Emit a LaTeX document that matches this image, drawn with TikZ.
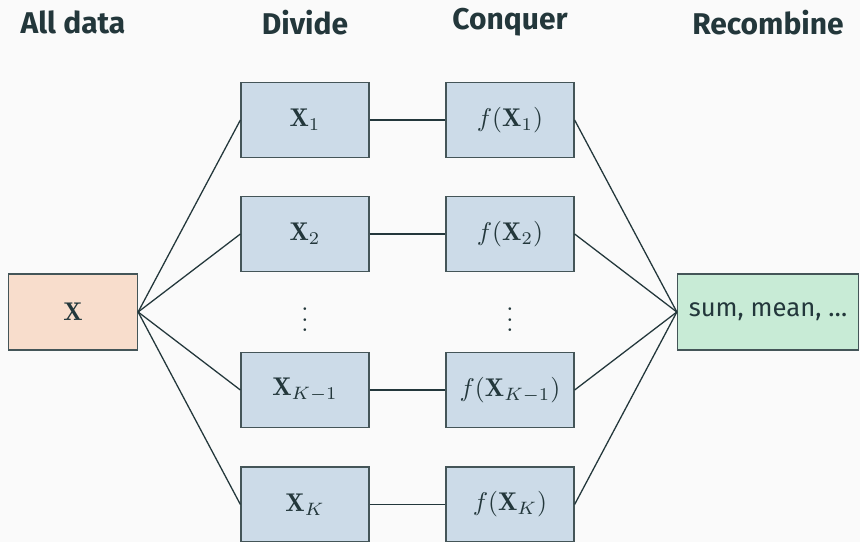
\documentclass[tikz,border=0pt]{standalone}
\usepackage{amsmath}
\usepackage{amssymb}
\usepackage{fontspec}
\setsansfont{Fira Sans}
\usepackage{xcolor}

\definecolor{mdark}{HTML}{23373B}
\definecolor{bgcol}{HTML}{FAFAFA}
\definecolor{boxblue}{HTML}{CCDBE8}
\definecolor{boxorange}{HTML}{F8DDCC}
\definecolor{boxgreen}{HTML}{C8EBD6}

\tikzset{
  part/.style={draw=mdark!85, line width=0.5pt, fill=boxblue, minimum width=49.9pt, minimum height=29.3pt, inner sep=0pt},
  head/.style={font=\fontsize{11.7}{14}\sffamily\bfseries, text=mdark},
  link/.style={draw=mdark, line width=0.5pt}
}

\begin{document}
\begin{tikzpicture}[x=0.39pt, y=-0.39pt, text=mdark]

\useasboundingbox (0,0) rectangle (860,542);
\fill[bgcol] (0,0) rectangle (860,542);

\coordinate (all) at (73,312);
\coordinate (d1) at (305,120);
\coordinate (d2) at (305,234);
\coordinate (dd) at (305,312);
\coordinate (dk1) at (305,390);
\coordinate (dk) at (305,504.5);
\coordinate (c1) at (510,120);
\coordinate (c2) at (510,234);
\coordinate (cd) at (510,312);
\coordinate (ck1) at (510,390);
\coordinate (ck) at (510,504.5);
\coordinate (rec) at (768,312);

\node[head] at (73,22) {All data};
\node[head] at (305,23) {Divide};
\node[head] at (510,22) {Conquer};
\node[head] at (768,23) {Recombine};

\node[part, fill=boxorange, minimum width=50.3pt, minimum height=29.6pt] (X) at (all) {$\mathbf{X}$};

\node[part] (X1) at (d1) {$\mathbf{X}_1$};
\node[part] (X2) at (d2) {$\mathbf{X}_2$};
\node (Xd) at (dd) {$\vdots$};
\node[part] (XK1) at (dk1) {$\mathbf{X}_{K-1}$};
\node[part] (XK) at (dk) {$\mathbf{X}_K$};

\node[part] (f1) at (c1) {$f(\mathbf{X}_1)$};
\node[part] (f2) at (c2) {$f(\mathbf{X}_2)$};
\node (fd) at (cd) {$\vdots$};
\node[part] (fK1) at (ck1) {$f(\mathbf{X}_{K-1})$};
\node[part] (fK) at (ck) {$f(\mathbf{X}_K)$};

\node[part, fill=boxgreen, minimum width=70.6pt, minimum height=29.6pt, font=\sffamily] (R) at (rec) {sum, mean, \dots};

\draw[link] (X.east) -- (X1.west);
\draw[link] (X.east) -- (X2.west);
\draw[link] (X.east) -- (XK1.west);
\draw[link] (X.east) -- (XK.west);

\draw[link] (X1) -- (f1);
\draw[link] (X2) -- (f2);
\draw[link] (XK1) -- (fK1);
\draw[link] (XK) -- (fK);

\draw[link] (f1.east) -- (R.west);
\draw[link] (f2.east) -- (R.west);
\draw[link] (fK1.east) -- (R.west);
\draw[link] (fK.east) -- (R.west);
\end{tikzpicture}
\end{document}
